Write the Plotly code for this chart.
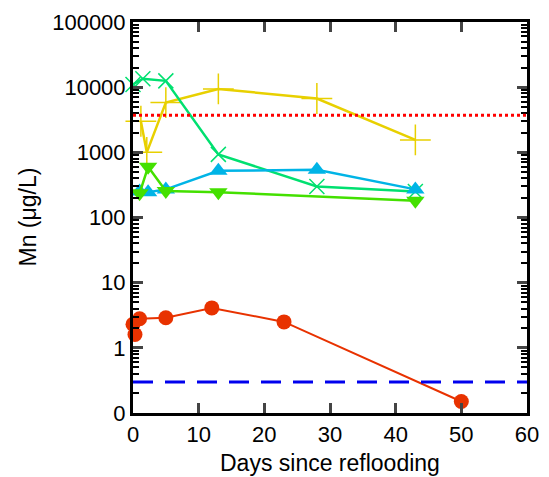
import plotly.graph_objects as go

# Data
red_x = [0, 0.3, 1, 5, 12, 23, 50]
red_y = [2.3, 1.6, 2.8, 2.9, 4.1, 2.5, 0.15]

yellow_x = [1.2, 2.1, 5, 13, 28, 43]
yellow_y = [3000, 1000, 5800, 9400, 6700, 1550]

greenx_x = [0, 1.5, 5, 13, 28, 43]
greenx_y = [11000, 13500, 12500, 930, 300, 250]

blue_x = [1, 2.3, 5, 13, 28, 43]
blue_y = [250, 245, 270, 520, 540, 270]

greendn_x = [1, 2.3, 5, 13, 43]
greendn_y = [235, 600, 255, 245, 180]

red_limit = 3700
blue_limit = 0.3

y_tickvals = [0.1, 1, 10, 100, 1000, 10000, 100000]
y_ticktext = ["0", "1", "10", "100", "1000", "10000", "100000"]

x_title = "Days since reflooding"
y_title = "Mn (μg/L)"

minor_vals = [m * 10 ** e for e in range(-1, 5) for m in range(2, 10)]

fig = go.Figure()

fig.add_hline(y=red_limit, line=dict(color="#ff0000", width=3, dash="dot"))
fig.add_hline(y=blue_limit, line=dict(color="#0000ee", width=3, dash="20px,12px"))

fig.add_trace(go.Scatter(x=yellow_x, y=yellow_y, mode="lines+markers",
                         line=dict(color="#e8d000", width=2.5),
                         marker=dict(symbol="cross-thin", size=22,
                                     line=dict(color="#e8d000", width=1.5)),
                         cliponaxis=False))
fig.add_trace(go.Scatter(x=greenx_x, y=greenx_y, mode="lines+markers",
                         line=dict(color="#00e070", width=2.5),
                         marker=dict(symbol="x-thin", size=15,
                                     line=dict(color="#00e070", width=1.5)),
                         cliponaxis=False))
fig.add_trace(go.Scatter(x=blue_x, y=blue_y, mode="lines+markers",
                         line=dict(color="#00b4e6", width=2.5),
                         marker=dict(symbol="triangle-up", size=16, color="#00b4e6"),
                         cliponaxis=False))
fig.add_trace(go.Scatter(x=greendn_x, y=greendn_y, mode="lines+markers",
                         line=dict(color="#44e000", width=2.5),
                         marker=dict(symbol="triangle-down", size=16, color="#44e000"),
                         cliponaxis=False))
fig.add_trace(go.Scatter(x=red_x, y=red_y, mode="lines+markers",
                         line=dict(color="#e83200", width=2),
                         marker=dict(symbol="circle", size=15, color="#e83200"),
                         cliponaxis=False))

font = "Liberation Sans, Arial, sans-serif"

# page body has an 8px margin; size the figure so the plot area lands where the reference has it
fig.update_layout(
    width=533, height=469,
    margin=dict(l=125, r=14, t=14, b=64, autoexpand=False),
    paper_bgcolor="white", plot_bgcolor="white",
    showlegend=False,
    font=dict(family=font, size=22, color="black"),
)
fig.update_xaxes(
    range=[0, 60], dtick=10, ticks="inside", ticklen=10, tickwidth=3,
    showline=True, linewidth=3, linecolor="black", mirror="ticks",
    showgrid=False, zeroline=False, automargin=False,
    tickfont=dict(size=22),
)
fig.update_yaxes(
    type="log", range=[-1, 5], tickmode="array", tickvals=y_tickvals, ticktext=y_ticktext,
    ticks="inside", ticklen=10, tickwidth=3,
    minor=dict(tickmode="array", tickvals=minor_vals, ticks="inside", ticklen=6,
               tickwidth=2, tickcolor="black", showgrid=False),
    showline=True, linewidth=3, linecolor="black", mirror="ticks",
    showgrid=False, zeroline=False, automargin=False,
    tickfont=dict(size=22),
)

fig.add_annotation(text=x_title, xref="paper", yref="paper", x=0.5, y=0,
                   xanchor="center", yanchor="middle", yshift=-50,
                   showarrow=False, font=dict(size=23))
fig.add_annotation(text=y_title, xref="paper", yref="paper", x=0, y=0.5,
                   xanchor="center", yanchor="middle", xshift=-106, textangle=-90,
                   showarrow=False, font=dict(size=23))

fig.write_html("out.html")
